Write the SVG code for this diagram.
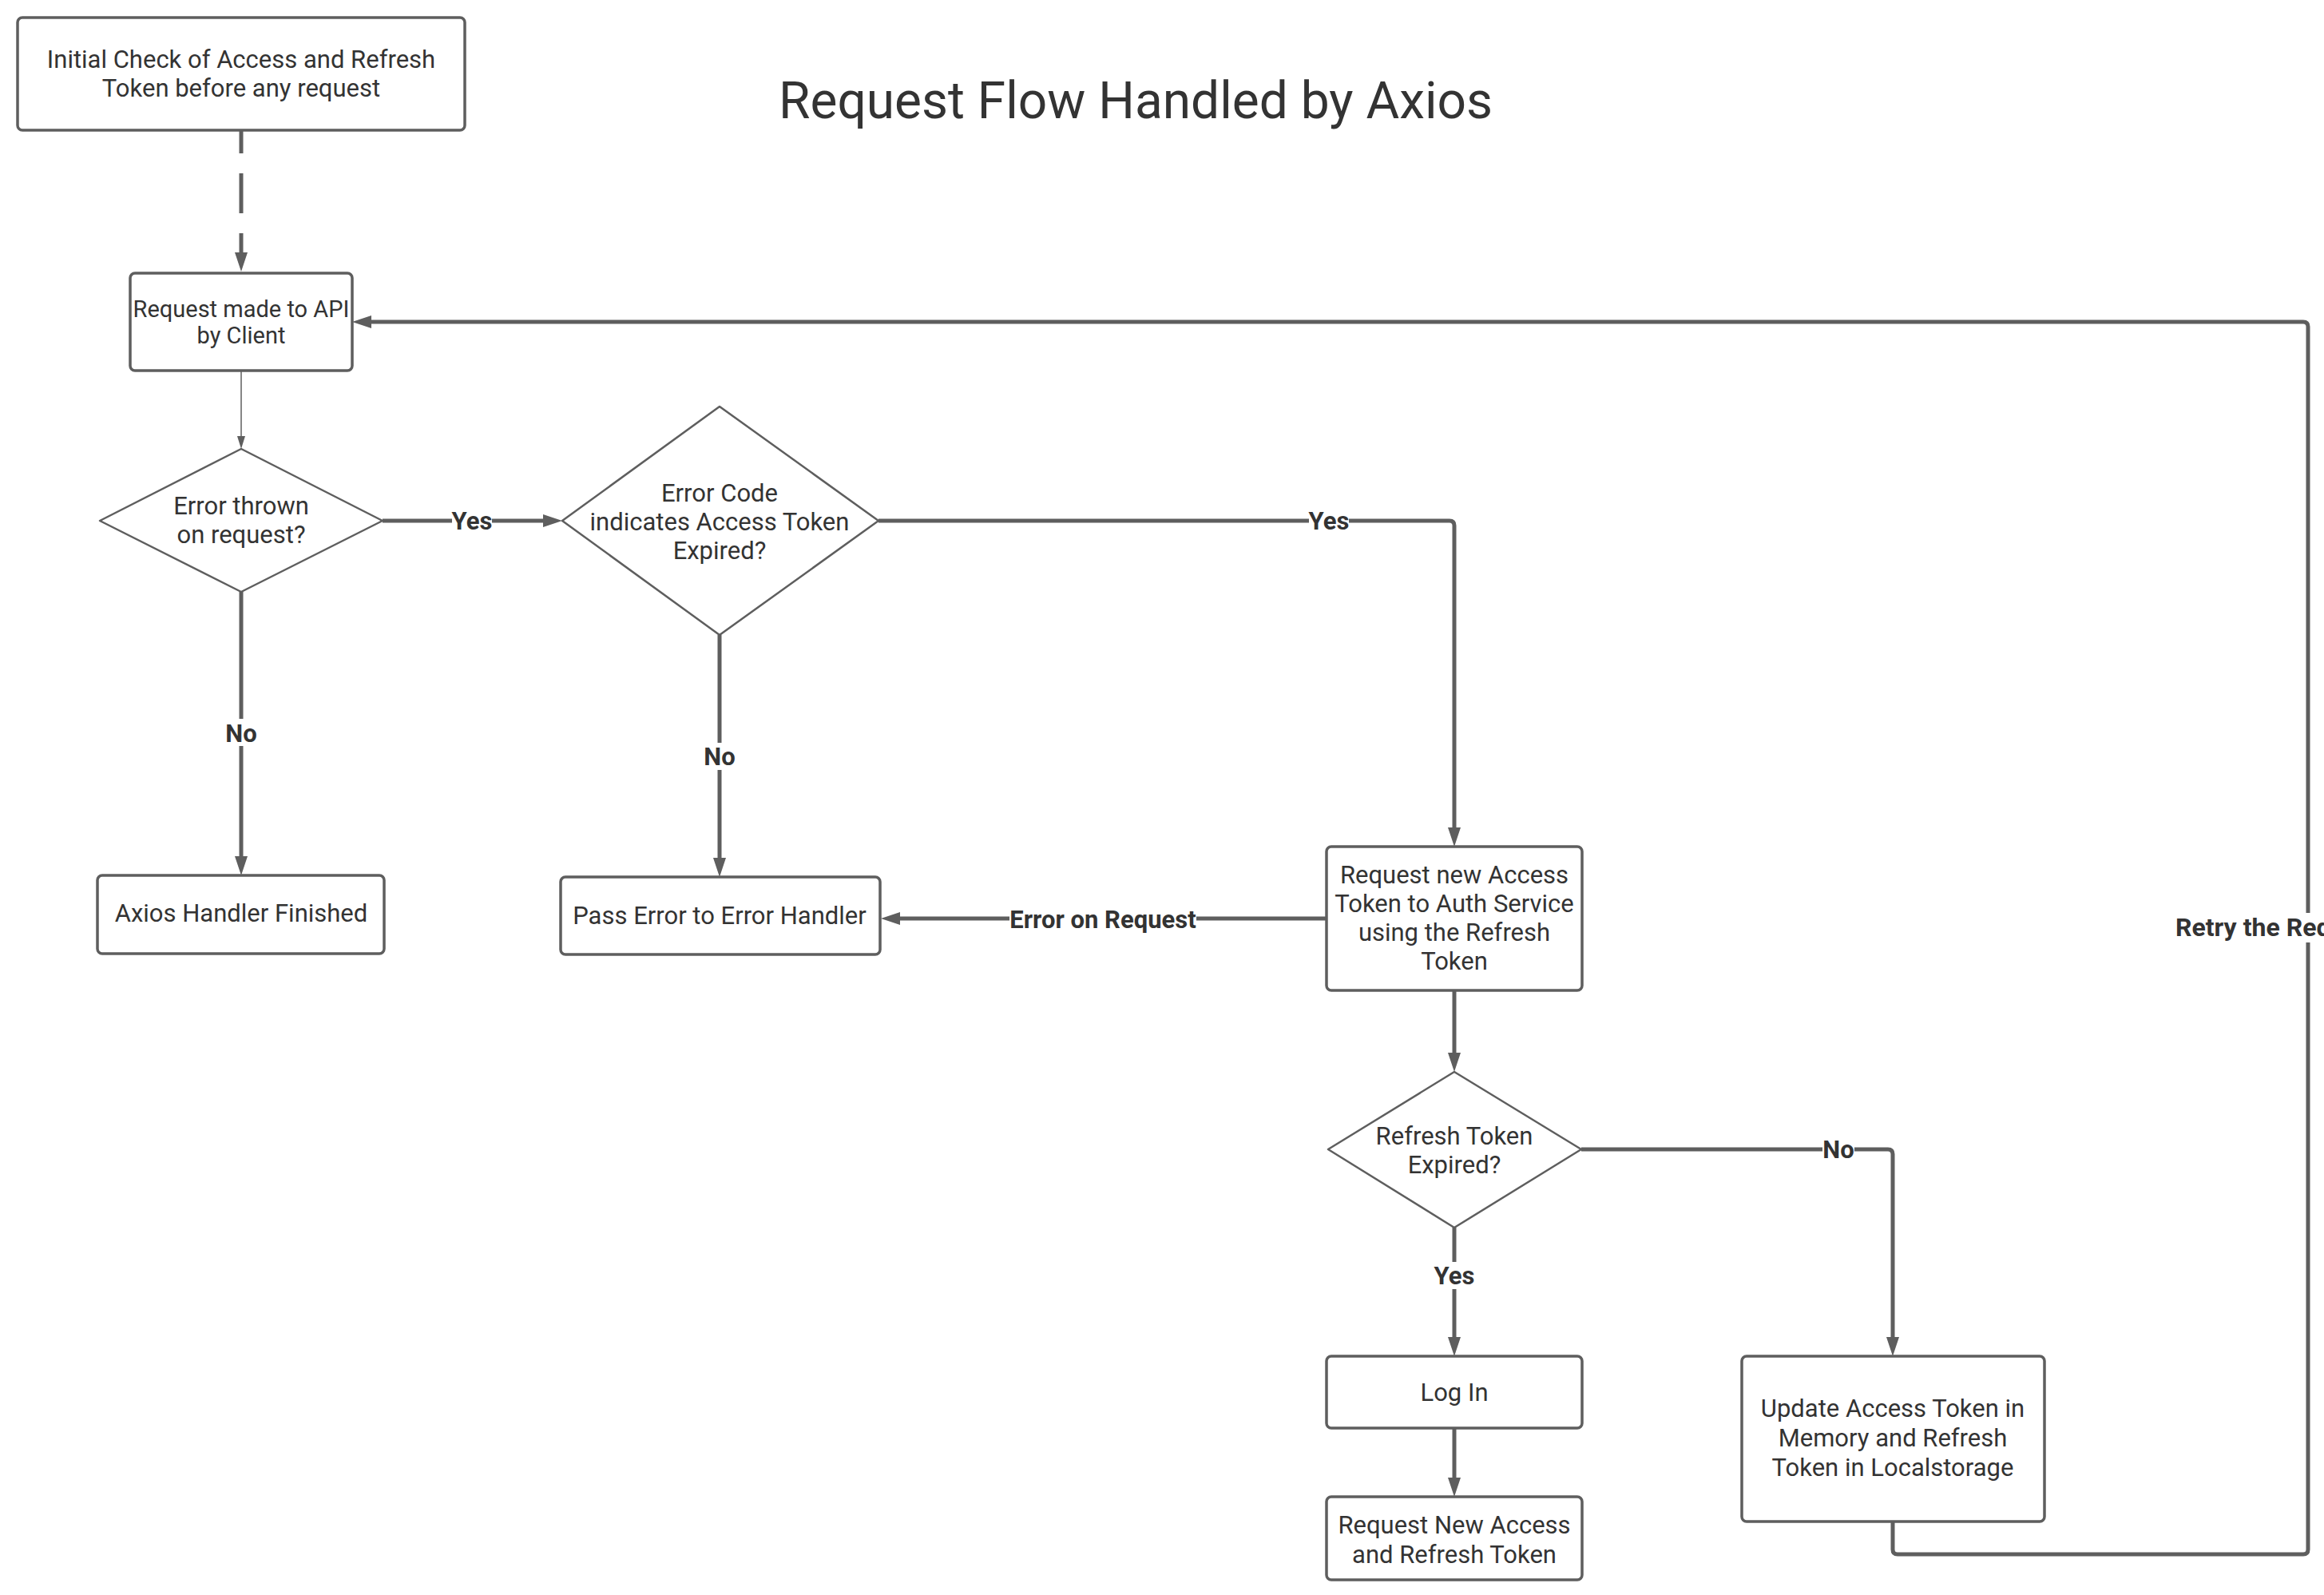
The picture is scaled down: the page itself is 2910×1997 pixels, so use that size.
<svg xmlns="http://www.w3.org/2000/svg" width="2910" height="1997" viewBox="0 0 2910 1997">
<style>
.box{fill:#fff;stroke:#5e5e5e;stroke-width:3.5}
.dia{fill:#fff;stroke:#5e5e5e;stroke-width:2.5;stroke-linejoin:round}
.t{font-family:Roboto,"Liberation Sans",sans-serif;font-size:31px;fill:#333;text-anchor:middle}
.ts{font-size:29px}
.title{font-family:Roboto,"Liberation Sans",sans-serif;font-size:64px;fill:#333;text-anchor:middle}
.c{fill:none;stroke:#5e5e5e;stroke-width:5;stroke-linejoin:round}
.thin{fill:none;stroke:#5e5e5e;stroke-width:1.5}
.lbl{font-family:Roboto,"Liberation Sans",sans-serif;font-size:31px;font-weight:bold;fill:#333;text-anchor:middle}
.lb{fill:#fff}
</style>
<defs>
<marker id="arr" markerUnits="userSpaceOnUse" markerWidth="24" markerHeight="16" refX="12" refY="8" orient="auto">
<path d="M0,0 L24,8 L0,16 z" fill="#5e5e5e"/>
</marker>
<marker id="arrs" markerUnits="userSpaceOnUse" markerWidth="16" markerHeight="10" refX="8" refY="5" orient="auto">
<path d="M0,0 L16,5 L0,10 z" fill="#5e5e5e"/>
</marker>
</defs>
<rect width="2910" height="1997" fill="#fff"/>
<text class="title" x="1422" y="148">Request Flow Handled by Axios</text>

<g id="connectors">
<path class="c" d="M302,163 L302,328" stroke-dasharray="50 25" stroke-dashoffset="21" marker-end="url(#arr)"/>
<path class="thin" d="M302,464 L302,554" marker-end="url(#arrs)"/>
<path class="c" d="M479,652 L692,652" marker-end="url(#arr)"/>
<path class="c" d="M302,741 L302,1084" marker-end="url(#arr)"/>
<path class="c" d="M901,795 L901,1086" marker-end="url(#arr)"/>
<path class="c" d="M1100,652 L1815,652 Q1821,652 1821,658 L1821,1048" marker-end="url(#arr)"/>
<path class="c" d="M1661,1150 L1115,1150" marker-end="url(#arr)"/>
<path class="c" d="M1821,1240 L1821,1330" marker-end="url(#arr)"/>
<path class="c" d="M1821,1537 L1821,1686" marker-end="url(#arr)"/>
<path class="c" d="M1980,1439 L2364,1439 Q2370,1439 2370,1445 L2370,1686" marker-end="url(#arr)"/>
<path class="c" d="M1821,1788 L1821,1862" marker-end="url(#arr)"/>
<path class="c" d="M2370,1905 L2370,1940 Q2370,1946 2376,1946 L2884,1946 Q2890,1946 2890,1940 L2890,409 Q2890,403 2884,403 L453,403" marker-end="url(#arr)"/>
<g id="labels">
<rect class="lb" x="566" y="636" width="50" height="32"/>
<text class="lbl" x="591" y="663">Yes</text>
<rect class="lb" x="282" y="900" width="40" height="34"/>
<text class="lbl" x="302" y="929">No</text>
<rect class="lb" x="881" y="930" width="40" height="34"/>
<text class="lbl" x="901" y="958">No</text>
<rect class="lb" x="1639" y="636" width="50" height="32"/>
<text class="lbl" x="1664" y="663">Yes</text>
<rect class="lb" x="1264" y="1134" width="234" height="34"/>
<text class="lbl" x="1381" y="1162">Error on Request</text>
<rect class="lb" x="1796" y="1580" width="50" height="34"/>
<text class="lbl" x="1821" y="1608">Yes</text>
<rect class="lb" x="2282" y="1423" width="40" height="32"/>
<text class="lbl" x="2302" y="1450">No</text>
<rect class="lb" x="2720" y="1143" width="200" height="37"/>
<text class="lbl" x="2724" y="1172" style="text-anchor:start;font-size:32px">Retry the Request</text>
</g>
</g>

<g id="n-initial">
<rect class="box" x="22" y="22" width="560" height="141" rx="6"/>
<text class="t" x="302" y="85">Initial Check of Access and Refresh</text>
<text class="t" x="302" y="121">Token before any request</text>
</g>
<g id="n-request">
<rect class="box" x="163" y="342" width="278" height="122" rx="6"/>
<text class="t ts" x="302" y="397">Request made to API</text>
<text class="t ts" x="302" y="430">by Client</text>
</g>
<g id="n-error-thrown">
<path class="dia" d="M302,562 L479,652 L302,741 L125,652 Z"/>
<text class="t" x="302" y="644">Error thrown</text>
<text class="t" x="302" y="680">on request?</text>
</g>
<g id="n-error-code">
<path class="dia" d="M901,509 L1100,652 L901,795 L704,652 Z"/>
<text class="t" x="901" y="628">Error Code</text>
<text class="t" x="901" y="664">indicates Access Token</text>
<text class="t" x="901" y="700">Expired?</text>
</g>
<g id="n-axios-finished">
<rect class="box" x="122" y="1096" width="359" height="98" rx="6"/>
<text class="t" x="302" y="1154">Axios Handler Finished</text>
</g>
<g id="n-pass-error">
<rect class="box" x="702" y="1098" width="400" height="97" rx="6"/>
<text class="t" x="901" y="1157">Pass Error to Error Handler</text>
</g>
<g id="n-request-new">
<rect class="box" x="1661" y="1060" width="320" height="180" rx="6"/>
<text class="t" x="1821" y="1106">Request new Access</text>
<text class="t" x="1821" y="1142">Token to Auth Service</text>
<text class="t" x="1821" y="1178">using the Refresh</text>
<text class="t" x="1821" y="1214">Token</text>
</g>
<g id="n-refresh-expired">
<path class="dia" d="M1821,1342 L1980,1439 L1821,1537 L1663,1439 Z"/>
<text class="t" x="1821" y="1433">Refresh Token</text>
<text class="t" x="1821" y="1469">Expired?</text>
</g>
<g id="n-login">
<rect class="box" x="1661" y="1698" width="320" height="90" rx="6"/>
<text class="t" x="1821" y="1754">Log In</text>
</g>
<g id="n-request-new-both">
<rect class="box" x="1661" y="1874" width="320" height="104" rx="6"/>
<text class="t" x="1821" y="1920">Request New Access</text>
<text class="t" x="1821" y="1957">and Refresh Token</text>
</g>
<g id="n-update">
<rect class="box" x="2181" y="1698" width="379" height="207" rx="6"/>
<text class="t" x="2370" y="1774">Update Access Token in</text>
<text class="t" x="2370" y="1811">Memory and Refresh</text>
<text class="t" x="2370" y="1848">Token in Localstorage</text>
</g>
</svg>
